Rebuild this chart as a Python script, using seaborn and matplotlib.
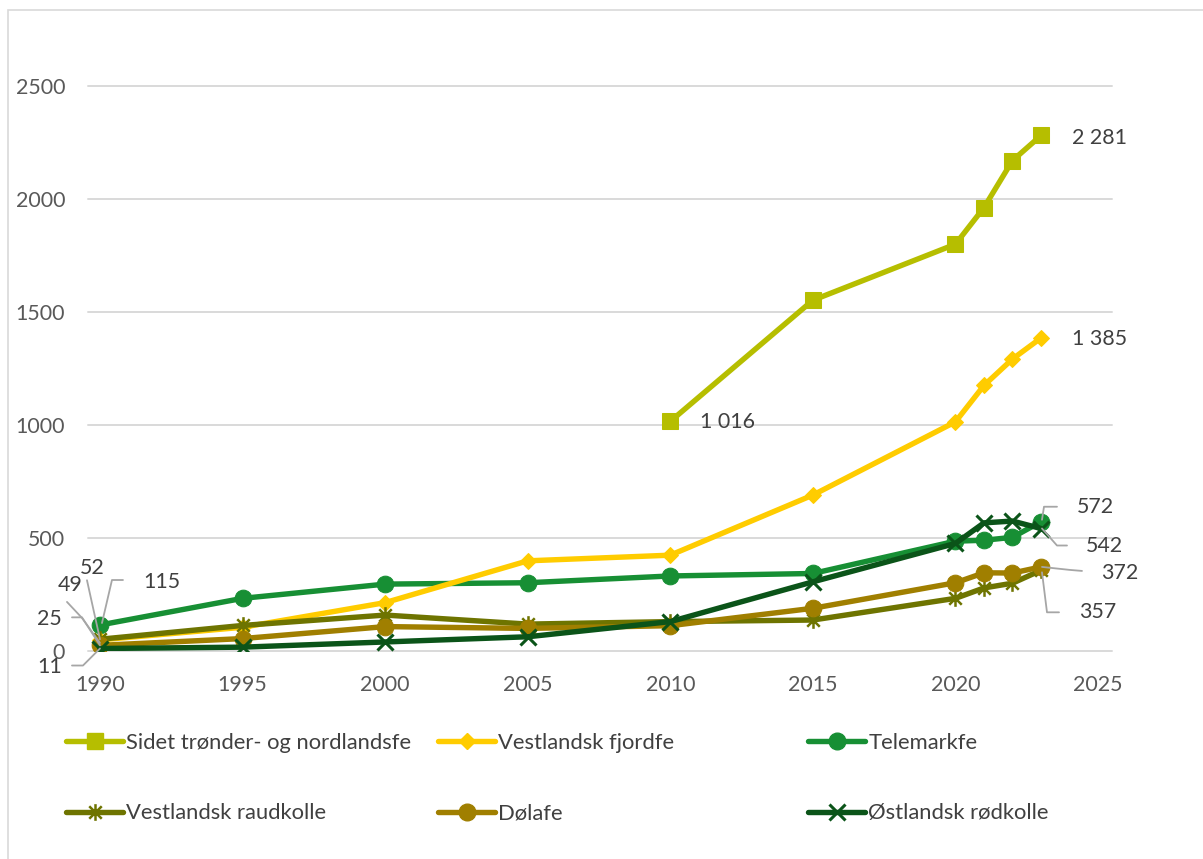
import numpy as np
import pandas as pd
import matplotlib
matplotlib.use("Agg")
import matplotlib.pyplot as plt
from matplotlib.path import Path
from matplotlib.lines import Line2D
from matplotlib.patches import Rectangle
import seaborn as sns

# ---------------- data ----------------
years = [1990, 1995, 2000, 2005, 2010, 2015, 2020, 2021, 2022, 2023]
sidet = [np.nan, np.nan, np.nan, np.nan, 1016, 1552, 1800, 1962, 2170, 2281]
fjordfe = [49, 105, 214, 399, 424, 690, 1014, 1175, 1292, 1385]
telemark = [115, 233, 296, 302, 332, 343, 486, 490, 503, 572]
raudkolle = [52, 113, 159, 119, 130, 137, 233, 279, 300, 357]
dolafe = [25, 55, 108, 100, 112, 189, 302, 346, 345, 372]
ostlandsk = [11, 17, 40, 63, 130, 306, 476, 567, 575, 542]

names = ["Sidet trønder- og nordlandsfe", "Vestlandsk fjordfe", "Telemarkfe",
         "Vestlandsk raudkolle", "Dølafe", "Østlandsk rødkolle"]
values = [sidet, fjordfe, telemark, raudkolle, dolafe, ostlandsk]
colors = ["#B6BE00", "#FFCC00", "#178F34", "#6E7400", "#A07F00", "#0B5419"]

yticks = [0, 500, 1000, 1500, 2000, 2500]
xticks = [1990, 1995, 2000, 2005, 2010, 2015, 2020, 2025]

# ---------------- style ----------------
sns.set_theme(style="white")
plt.rcParams["font.family"] = ["Lato", "DejaVu Sans"]
FS = 15.4
LFS = 15.8
TXT = "#404040"
TICK = "#595959"

# Excel-like star marker: vertical line plus an X
star = Path([(0, -1), (0, 1), (-0.75, -0.75), (0.75, 0.75), (-0.75, 0.75), (0.75, -0.75)],
            [Path.MOVETO, Path.LINETO, Path.MOVETO, Path.LINETO, Path.MOVETO, Path.LINETO])

styles = [
    dict(marker="s", markersize=12, zorder=3),
    dict(marker="D", markersize=8.5, zorder=4),
    dict(marker="o", markersize=12, zorder=3.5),
    dict(marker=star, markersize=12, markeredgewidth=1.8, zorder=5),
    dict(marker="o", markersize=12, zorder=5.5),
    dict(marker="x", markersize=11, markeredgewidth=2.2, zorder=6),
]

W, H = 1203, 859
fig = plt.figure(figsize=(W / 100, H / 100), dpi=100)
ax = fig.add_axes([88 / W, 1 - 651 / H, (1112 - 88) / W, (651 - 86) / H])

for name, vals, col, st in zip(names, values, colors, styles):
    df = pd.DataFrame({"year": years, "val": vals}).dropna()
    kw = dict(st)
    z = kw.pop("zorder")
    sns.lineplot(data=df, x="year", y="val", ax=ax, color=col, linewidth=3.9,
                 markeredgecolor=col, markerfacecolor=col, label=name,
                 errorbar=None, zorder=z, legend=False, **kw)

ax.set_xlim(1989.58, 2025.49)
ax.set_ylim(0, 2500)
ax.set_xticks(xticks)
ax.set_yticks(yticks)
ax.set_xlabel("")
ax.set_ylabel("")
for s in ax.spines.values():
    s.set_visible(False)
ax.grid(False)
for yv in yticks:
    ax.axhline(yv, color="#D9D9D9", linewidth=1.4, zorder=1, clip_on=False)
ax.tick_params(axis="both", length=0, labelsize=FS, labelcolor=TICK)
ax.tick_params(axis="y", pad=16.5)
ax.tick_params(axis="x", pad=17)

# chart border
fig.patches.append(Rectangle((8 / W, -0.1), 2, 1 - 10 / H + 0.1, transform=fig.transFigure,
                             fill=False, edgecolor="#D9D9D9", linewidth=1.2))

# ---------------- data labels ----------------
# (series index, year, text, text offset px (dx, dy-down), ha, leader offsets px)
labels = [
    (0, 2023, "2 281", (31, 3), "left", None),
    (1, 2023, "1 385", (31, 1), "left", None),
    (0, 2010, "1 016", (30, 1), "left", None),
    (2, 2023, "572", (36, -15), "left", [(1, -2), (3, -15), (16, -15)]),
    (5, 2023, "542", (45, 17), "left", [(1, 0), (16, 17), (26, 17)]),
    (4, 2023, "372", (60, 6), "left", [(1, 0), (29, 3), (41, 4)]),
    (3, 2023, "357", (38, 42), "left", [(1, 2), (6, 42), (18, 42)]),
    (2, 1990, "115", (43, -43), "left", [(2, -2), (12, -45), (23, -45)]),
    (3, 1990, "52", (-8, -71), "center", [(0, 0), (-13, -59)]),
    (1, 1990, "49", (-17, -55), "right", [(0, 3), (-18, -22), (-33, -38)]),
    (4, 1990, "25", (-38, -26), "right", [(0, 0), (-18, -28), (-28, -28)]),
    (5, 1990, "11", (-38, 18), "right", [(0, 0), (-17, 17), (-28, 17)]),
]

for si, yr, txt, (dx, dy), ha, leader in labels:
    v = values[si][years.index(yr)]
    px, py = ax.transData.transform((yr, v))
    ax.annotate(txt, xy=(yr, v), xytext=(dx * 0.72, -dy * 0.72), textcoords="offset points",
                ha=ha, va="center", fontsize=FS, color=TXT, zorder=10, annotation_clip=False)
    if leader:
        xs = [px + ox for ox, oy in leader]
        ys = [py - oy for ox, oy in leader]
        fig.add_artist(Line2D(xs, ys, transform=None, color="#A6A6A6", linewidth=1.3, zorder=9))

# ---------------- legend ----------------
handles = [Line2D([], [], color=c, linewidth=3.9, markeredgecolor=c, markerfacecolor=c,
                  **{k: v for k, v in st.items() if k != "zorder"})
           for c, st in zip(colors, styles)]
col_x = [66, 438, 808]
for ci in range(3):
    idx = [ci, ci + 3]
    leg = fig.legend([handles[i] for i in idx], [names[i] for i in idx],
                     loc="upper left", bbox_to_anchor=(col_x[ci] / W, 1 - 733 / H),
                     frameon=False, fontsize=LFS, labelcolor=TXT, handlelength=2.6,
                     handletextpad=0.15, labelspacing=2.3, borderaxespad=0, borderpad=0)

fig.savefig("out.png", dpi=100)
